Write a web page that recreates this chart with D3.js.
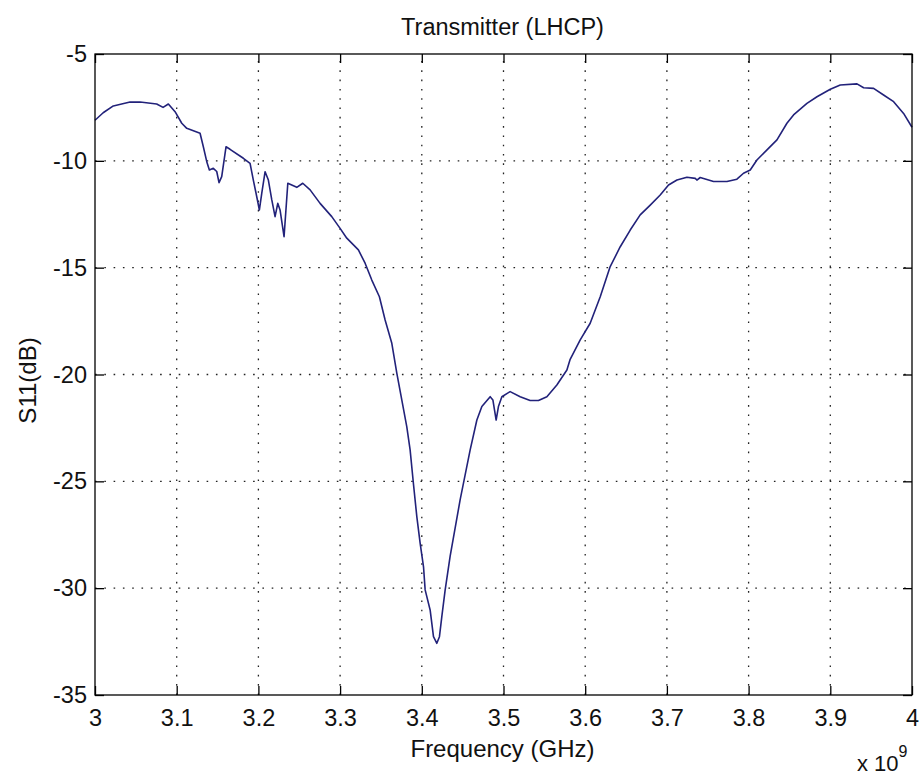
<!DOCTYPE html>
<html>
<head>
<meta charset="utf-8">
<script src="https://cdn.jsdelivr.net/npm/d3@7"></script>
<style>
  html, body { margin: 0; padding: 0; background: #fff; }
  svg { display: block; }
  text { font-family: "Liberation Sans", Arial, sans-serif; fill: #111; }
</style>
</head>
<body>
<svg id="chart" width="921" height="778"></svg>
<script>
// Measured return loss of the LHCP transmitter antenna
const freqGHz = [
  3.000, 3.010, 3.0224, 3.0429, 3.0551, 3.0755, 3.0833, 3.0898, 3.098, 3.1062,
  3.1123, 3.1286, 3.1326, 3.1368, 3.140, 3.1448, 3.149, 3.1518, 3.1551, 3.1604,
  3.1653, 3.1816, 3.1898, 3.1938, 3.198, 3.2012, 3.2041, 3.2082, 3.2122, 3.2164,
  3.2204, 3.2237, 3.2265, 3.2314, 3.236, 3.247, 3.2543, 3.2633, 3.2755, 3.2898,
  3.300, 3.3082, 3.3224, 3.3306, 3.3388, 3.3481, 3.3551, 3.3633, 3.3694, 3.3755,
  3.3816, 3.3857, 3.3897, 3.3939, 3.398, 3.4021, 3.4041, 3.4102, 3.4143, 3.4184,
  3.4216, 3.4245, 3.4286, 3.4347, 3.4469, 3.4592, 3.4674, 3.4735, 3.4837, 3.487,
  3.491, 3.4938, 3.498, 3.5081, 3.5204, 3.5326, 3.5428, 3.5531, 3.5653, 3.5776,
  3.5816, 3.5939, 3.6061, 3.6184, 3.6306, 3.6429, 3.6551, 3.6673, 3.6796, 3.6918,
  3.702, 3.7123, 3.7245, 3.7347, 3.7367, 3.7408, 3.7571, 3.7735, 3.7857, 3.7938,
  3.802, 3.8102, 3.8225, 3.8347, 3.8469, 3.855, 3.8714, 3.8837, 3.900, 3.9122,
  3.9327, 3.9408, 3.953, 3.9652, 3.9775, 3.9897, 4.000
];
const s11dB = [
  -8.10, -7.75, -7.43, -7.25, -7.25, -7.34, -7.50, -7.34, -7.70, -8.24,
  -8.48, -8.71, -9.34, -10.04, -10.43, -10.35, -10.50, -11.02, -10.74, -9.34,
  -9.46, -9.88, -10.12, -10.90, -11.68, -12.30, -11.52, -10.51, -10.90, -11.83,
  -12.61, -11.99, -12.30, -13.55, -11.05, -11.24, -11.05, -11.36, -11.99, -12.61,
  -13.16, -13.62, -14.17, -14.79, -15.58, -16.36, -17.45, -18.54, -19.94, -21.19,
  -22.44, -23.53, -25.09, -26.65, -27.90, -29.00, -30.08, -31.02, -32.27, -32.58,
  -32.27, -31.33, -30.08, -28.50, -25.87, -23.53, -22.13, -21.50, -21.04, -21.19,
  -22.13, -21.50, -21.04, -20.80, -21.04, -21.22, -21.22, -21.04, -20.49, -19.79,
  -19.29, -18.38, -17.60, -16.36, -14.95, -14.02, -13.24, -12.53, -12.07, -11.60,
  -11.13, -10.90, -10.77, -10.82, -10.90, -10.78, -10.97, -10.97, -10.86, -10.58,
  -10.43, -9.96, -9.49, -9.02, -8.24, -7.85, -7.31, -7.00, -6.65, -6.45,
  -6.40, -6.58, -6.61, -6.92, -7.23, -7.78, -8.43
];
const xTicks = [3, 3.1, 3.2, 3.3, 3.4, 3.5, 3.6, 3.7, 3.8, 3.9, 4];
const yTicks = [-35, -30, -25, -20, -15, -10, -5];
const xTickLabels = ["3", "3.1", "3.2", "3.3", "3.4", "3.5", "3.6", "3.7", "3.8", "3.9", "4"];
const yTickLabels = ["-35", "-30", "-25", "-20", "-15", "-10", "-5"];
const titleText = "Transmitter (LHCP)";
const xLabelText = "Frequency (GHz)";
const yLabelText = "S11(dB)";

const svg = d3.select("#chart");
const padL = 95, padT = 54, padR = 912, padB = 695;
const W = padR - padL, H = padB - padT;

const x = d3.scaleLinear().domain([3, 4]).range([0, W]);
const y = d3.scaleLinear().domain([-35, -5]).range([H, 0]);

const g = svg.append("g").attr("transform", `translate(${padL},${padT})`);

// plot background
g.append("rect").attr("width", W).attr("height", H).attr("fill", "#fff");

// dotted grid
const grid = g.append("g").attr("stroke", "#222").attr("stroke-width", 1.3)
  .attr("stroke-dasharray", "1.6,7.7");
grid.selectAll("line.vx").data(xTicks.slice(1, -1)).join("line")
  .attr("x1", d => x(d)).attr("x2", d => x(d)).attr("y1", H).attr("y2", 0);
grid.selectAll("line.hy").data(yTicks.slice(1, -1)).join("line")
  .attr("x1", 0).attr("x2", W).attr("y1", d => y(d)).attr("y2", d => y(d));

// data line
const pts = freqGHz.map((f, i) => [f, s11dB[i]]);
g.append("path").datum(pts)
  .attr("fill", "none").attr("stroke", "#22227a").attr("stroke-width", 1.6)
  .attr("stroke-linejoin", "round")
  .attr("d", d3.line().x(d => x(d[0])).y(d => y(d[1])));

// axes with inward ticks on all four sides
const tickLen = 9;
const xb = d3.axisBottom(x).tickValues(xTicks).tickSizeInner(-tickLen).tickSizeOuter(0)
  .tickFormat((d, i) => xTickLabels[i]).tickPadding(14);
const xt = d3.axisTop(x).tickValues(xTicks).tickSizeInner(-tickLen).tickSizeOuter(0).tickFormat("");
const yl = d3.axisLeft(y).tickValues(yTicks).tickSizeInner(-tickLen).tickSizeOuter(0)
  .tickFormat((d, i) => yTickLabels[i]).tickPadding(8);
const yr = d3.axisRight(y).tickValues(yTicks).tickSizeInner(-tickLen).tickSizeOuter(0).tickFormat("");

function style(sel) {
  sel.select(".domain").remove();
  sel.selectAll(".tick line").attr("stroke", "#000").attr("stroke-width", 1.3);
  sel.selectAll(".tick text").attr("font-size", 23.5).attr("fill", "#111")
    .attr("font-family", "'Liberation Sans', Arial, sans-serif");
}
g.append("g").attr("transform", `translate(0,${H})`).call(xb).call(style);
g.append("g").call(xt).call(style);
g.append("g").call(yl).call(style);
g.append("g").attr("transform", `translate(${W},0)`).call(yr).call(style);

// frame
g.append("rect").attr("width", W).attr("height", H)
  .attr("fill", "none").attr("stroke", "#000").attr("stroke-width", 1.3);

// labels
svg.append("text").attr("x", padL + W / 2 - 1).attr("y", 35).attr("text-anchor", "middle")
  .attr("font-size", 23.5).text(titleText);
svg.append("text").attr("x", padL + W / 2 - 1).attr("y", 757).attr("text-anchor", "middle")
  .attr("font-size", 24).text(xLabelText);
svg.append("text").attr("transform", `translate(36,${padT + H / 2 + 6}) rotate(-90)`)
  .attr("text-anchor", "middle").attr("font-size", 24).text(yLabelText);

// exponent of the frequency axis
const ex = svg.append("text").attr("x", 857).attr("y", 771).attr("font-size", 22);
ex.append("tspan").text("x 10");
ex.append("tspan").attr("dy", -14).attr("font-size", 16).text("9");
</script>
</body>
</html>
